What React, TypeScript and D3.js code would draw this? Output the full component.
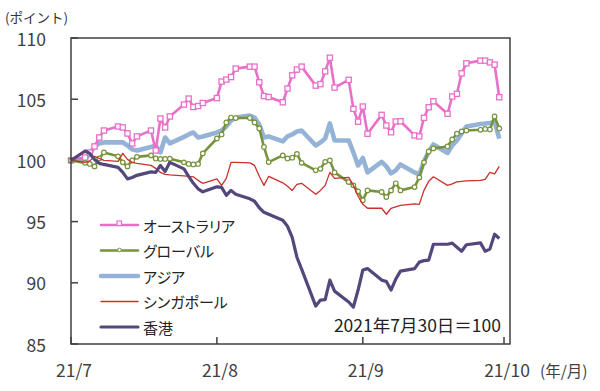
import React from "react";
import * as d3 from "d3";

const dates = [
  "2021-07-30",
  "2021-08-02", "2021-08-03", "2021-08-04", "2021-08-05", "2021-08-06",
  "2021-08-09", "2021-08-10", "2021-08-11", "2021-08-12", "2021-08-13",
  "2021-08-16", "2021-08-17", "2021-08-18", "2021-08-19", "2021-08-20",
  "2021-08-23", "2021-08-24", "2021-08-25", "2021-08-26", "2021-08-27",
  "2021-08-30", "2021-08-31", "2021-09-01", "2021-09-02", "2021-09-03",
  "2021-09-06", "2021-09-07", "2021-09-08", "2021-09-09", "2021-09-10",
  "2021-09-13", "2021-09-14", "2021-09-15", "2021-09-16", "2021-09-17",
  "2021-09-20", "2021-09-21", "2021-09-22", "2021-09-23", "2021-09-24",
  "2021-09-27", "2021-09-28", "2021-09-29", "2021-09-30", "2021-10-01",
  "2021-10-04", "2021-10-05", "2021-10-06", "2021-10-07", "2021-10-08",
  "2021-10-11", "2021-10-12", "2021-10-13", "2021-10-14", "2021-10-15",
  "2021-10-18", "2021-10-19", "2021-10-20", "2021-10-21", "2021-10-22",
  "2021-10-25", "2021-10-26", "2021-10-27", "2021-10-28", "2021-10-29",
];

const australia = [
  100.0, 100.24, 100.65, 101.14, 101.87, 102.44,
  102.77, 102.69, 102.2, 101.39, 101.96,
  102.44, 100.81, 103.42, 102.69, 103.59,
  104.56, 105.05, 104.36, 104.44, 104.69,
  105.09, 106.44, 106.6, 106.81, 107.5,
  107.66, 107.66, 106.38, 105.26, 105.18,
  104.75, 105.87, 106.95, 107.42, 107.66,
  106.11, 106.23, 107.27, 108.39, 105.95,
  106.58, 104.21, 103.16, 104.4, 102.18,
  103.72, 102.85, 102.3, 103.18, 103.2,
  102.04, 101.96, 103.48, 104.34, 104.83,
  103.81, 105.22, 105.44, 107.11, 107.93,
  108.15, 108.15, 108.01, 107.82, 105.16,
];

const globalIdx = [
  100.0, 99.8, 99.71, 99.51, 100.16, 100.65,
  100.33, 99.84, 99.51, 100.0, 100.29,
  100.41, 100.16, 100.12, 100.12, 100.14,
  99.84, 99.71, 99.67, 99.71, 100.57,
  101.79, 102.12, 103.1, 103.5, 103.46,
  103.46, 103.1, 102.61, 101.1, 99.86,
  100.41, 100.16, 100.22, 100.53, 99.8,
  99.19, 99.31, 99.88, 100.0, 99.02,
  98.23, 97.96, 97.47, 96.74, 97.55,
  97.42, 97.01, 97.55, 98.13, 97.55,
  97.82, 98.61, 99.84, 100.73, 100.98,
  101.14, 101.71, 102.18, 102.36, 102.44,
  102.5, 102.57, 102.53, 103.59, 102.61,
];

const asia = [
  100.0, 100.16, 100.49, 101.14, 101.39, 101.47,
  101.47, 101.47, 101.22, 100.9, 100.81,
  101.1, 101.22, 100.65, 101.87, 101.39,
  101.92, 102.12, 102.28, 101.87, 101.96,
  102.28, 102.44, 102.77, 103.26, 103.5,
  103.67, 103.5, 102.93, 101.87, 101.96,
  101.55, 101.96, 102.12, 102.36, 102.44,
  101.22, 101.47, 101.79, 103.02, 101.63,
  101.63, 100.65, 99.59, 100.2, 99.02,
  99.88, 99.51, 98.94, 99.19, 99.67,
  99.02, 98.86, 99.92, 100.73, 101.3,
  100.61, 101.22, 101.63, 102.2, 102.77,
  102.97, 103.02, 103.06, 103.14, 101.77,
];

const singapore = [
  100.0, 99.84, 99.96, 100.33, 100.16, 100.0,
  99.92, 100.57, 100.08, 99.84, 99.76,
  99.59, 99.35, 99.02, 98.86, 98.82,
  98.74, 98.7, 98.66, 98.37, 98.13,
  98.49, 97.96, 98.53, 99.84, 99.84,
  99.8, 99.59, 98.7, 97.96, 98.7,
  98.17, 97.88, 97.55, 98.04, 98.13,
  97.23, 97.55, 97.96, 99.02, 98.53,
  98.61, 97.96, 97.07, 96.41, 96.09,
  96.09, 95.6, 96.09, 96.21, 96.33,
  96.45, 96.41, 97.55, 98.29, 98.66,
  97.96, 98.08, 98.25, 98.29, 98.33,
  98.37, 98.45, 99.02, 98.9, 99.51,
];

const hongKong = [
  100.0, 100.77, 100.57, 100.08, 99.76, 99.67,
  99.43, 99.02, 98.49, 98.61, 98.78,
  99.06, 99.02, 99.59, 99.1, 99.84,
  99.31, 98.7, 98.13, 97.68, 97.43,
  97.84, 97.8, 97.15, 97.55, 97.23,
  96.86, 96.66, 96.13, 95.76, 95.6,
  95.11, 94.62, 93.72, 92.09, 91.12,
  88.1, 88.59, 88.63, 90.22, 89.32,
  88.43, 88.02, 89.41, 91.04, 91.16,
  90.22, 90.1, 89.41, 90.3, 90.95,
  91.16, 91.69, 91.81, 91.85, 93.15,
  93.15, 93.24, 92.91, 92.58, 93.11,
  93.26, 92.58, 92.75, 93.97, 93.62,
];

const seriesNames = ["オーストラリア", "グローバル", "アジア", "シンガポール", "香港"];
const yTicks = [85, 90, 95, 100, 105, 110];
const xTickDates = ["2021-07-30", "2021-08-30", "2021-09-30", "2021-10-30"];
const xTickLabels = ["21/7", "21/8", "21/9", "21/10"];
const yUnitLabel = "(ポイント)";
const xUnitLabel = "(年/月)";
const baseNote = "2021年7月30日＝100";

const W = 600;
const H = 391;
const plot = { left: 71, right: 510, top: 38, bottom: 344 };
const FONT = "'Noto Sans CJK JP', 'Noto Sans', sans-serif";

const styles = {
  australia: { color: "#E96FC9", width: 2.6, marker: "square" },
  global: { color: "#77933C", width: 2.6, marker: "circle" },
  asia: { color: "#95B3D7", width: 4.6, marker: "none" },
  singapore: { color: "#C8312B", width: 1.3, marker: "none" },
  hongKong: { color: "#54477C", width: 3.2, marker: "none" },
};

const parse = d3.timeParse("%Y-%m-%d");

export default function App() {
  const dts = dates.map((d) => parse(d) as Date);
  const x = d3
    .scaleTime()
    .domain([parse("2021-07-30") as Date, parse("2021-10-30") as Date])
    .range([plot.left, 504]);
  const y = d3.scaleLinear().domain([85, 110]).range([plot.bottom, plot.top]);

  const series = [
    { key: "asia", name: seriesNames[2], values: asia },
    { key: "australia", name: seriesNames[0], values: australia },
    { key: "global", name: seriesNames[1], values: globalIdx },
    { key: "singapore", name: seriesNames[3], values: singapore },
    { key: "hongKong", name: seriesNames[4], values: hongKong },
  ];
  const legendOrder = ["australia", "global", "asia", "singapore", "hongKong"];

  const line = (vals: number[]) =>
    d3
      .line<number>()
      .x((_, i) => x(dts[i]))
      .y((v) => y(v))(vals) as string;

  const axisColor = "#404040";
  const textColor = "#404040";

  return (
    <svg width={W} height={H} style={{ display: "block", position: "absolute", left: 0, top: 0, background: "#fff" }}>
      <rect x={0} y={0} width={W} height={H} fill="#fff" />
      <text x={5} y={23} fontFamily={FONT} fontSize={13.5} fill="#333">
        {yUnitLabel}
      </text>
      {yTicks.map((t) => (
        <text
          key={t}
          x={46}
          y={y(t)}
          textAnchor="end"
          dominantBaseline="central"
          fontFamily={FONT}
          fontSize={17.5}
          fill={textColor}
        >
          {t}
        </text>
      ))}
      {yTicks.map((t) => (
        <line key={"yt" + t} x1={plot.left} x2={plot.left + 7} y1={y(t)} y2={y(t)} stroke={axisColor} strokeWidth={1.5} />
      ))}
      {xTickDates.map((d, i) => {
        const xx = x(parse(d) as Date);
        return (
          <g key={d}>
            <line x1={xx} x2={xx} y1={plot.bottom} y2={plot.bottom - 7} stroke={axisColor} strokeWidth={1.5} />
            <text
              x={xx + 3}
              y={377}
              textAnchor="middle"
              fontFamily={FONT}
              fontSize={17.5}
              fill={textColor}
            >
              {xTickLabels[i]}
            </text>
          </g>
        );
      })}
      <text x={540} y={377} fontFamily={FONT} fontSize={15.5} fill={textColor}>
        {xUnitLabel}
      </text>
      {series.map((s) => {
        const st = (styles as any)[s.key];
        return (
          <g key={s.key}>
            <path d={line(s.values)} fill="none" stroke={st.color} strokeWidth={st.width} strokeLinejoin="round" />
            {st.marker === "square" &&
              s.values.map((v, i) => (
                <rect
                  key={i}
                  x={x(dts[i]) - 2.6}
                  y={y(v) - 2.6}
                  width={5.2}
                  height={5.2}
                  fill="#fff"
                  stroke={st.color}
                  strokeWidth={1.3}
                />
              ))}
            {st.marker === "circle" &&
              s.values.map((v, i) => (
                <circle key={i} cx={x(dts[i])} cy={y(v)} r={2.3} fill="#fff" stroke={st.color} strokeWidth={1.2} />
              ))}
          </g>
        );
      })}
      <rect
        x={plot.left}
        y={plot.top}
        width={plot.right - plot.left}
        height={plot.bottom - plot.top}
        fill="none"
        stroke={axisColor}
        strokeWidth={1.5}
      />
      {legendOrder.map((k, i) => {
        const st = (styles as any)[k];
        const s = series.find((ss) => ss.key === k)!;
        const ly = 225 + i * 25.5;
        return (
          <g key={k}>
            <line x1={101} x2={138} y1={ly} y2={ly} stroke={st.color} strokeWidth={st.width} strokeLinecap="round" />
            {st.marker === "square" && (
              <rect x={117} y={ly - 4} width={4.5} height={4.5} fill="#fff" stroke={st.color} strokeWidth={1.2} />
            )}
            {st.marker === "circle" && <circle cx={119.5} cy={ly - 0.5} r={1.8} fill="#fff" stroke={st.color} strokeWidth={1} />}
            <text
              x={143}
              y={ly}
              dominantBaseline="central"
              fontFamily={FONT}
              fontSize={15}
              fill="#222"
              style={{ fontFeatureSettings: '"palt"' }}
            >
              {s.name}
            </text>
          </g>
        );
      })}
      <text x={501} y={332} textAnchor="end" fontFamily={FONT} fontSize={17.5} fill="#222">
        {baseNote}
      </text>
    </svg>
  );
}
